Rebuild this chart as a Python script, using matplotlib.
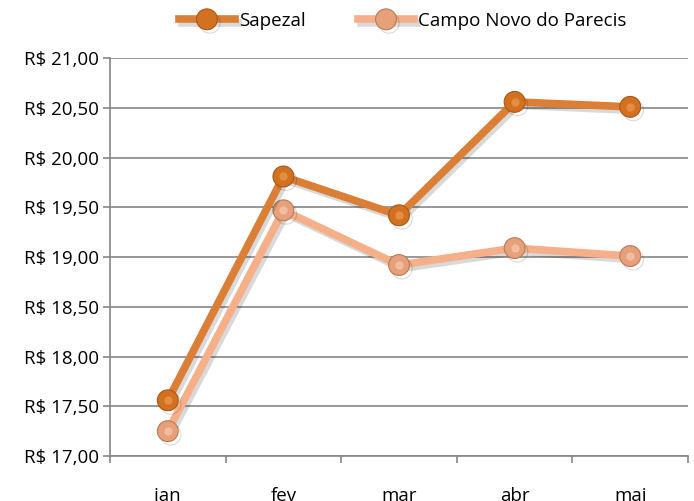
import matplotlib
matplotlib.use("Agg")
import matplotlib.pyplot as plt
import matplotlib.patheffects as pe
from matplotlib.ticker import FixedLocator, FuncFormatter

# --- Data ---
months = ["jan", "fev", "mar", "abr", "mai"]
sapezal = [17.56, 19.81, 19.42, 20.56, 20.51]
campo_novo = [17.25, 19.47, 18.92, 19.09, 19.01]

plt.rcParams['font.family'] = ['Open Sans', 'DejaVu Sans']
FS = 13.5

fig = plt.figure(figsize=(6.94, 5.01), dpi=100)
ax = fig.add_axes([0.1585, 0.0898, 0.8329, 0.7942])

x = list(range(len(months)))
shadow = [pe.SimpleLineShadow(offset=(2, -2.5), alpha=0.15, shadow_color='black'), pe.Normal()]

ax.plot(x, sapezal, color="#DB7E36", lw=5.5, marker='o', ms=15,
        markerfacecolor="#D2711F", markeredgecolor="#A8561A", markeredgewidth=0.8,
        label="Sapezal", path_effects=shadow, zorder=4)
ax.plot(x, campo_novo, color="#F5B08A", lw=5.5, marker='o', ms=15,
        markerfacecolor="#E6A07A", markeredgecolor="#B97A58", markeredgewidth=0.8,
        label="Campo Novo do Parecis", path_effects=shadow, zorder=3)

# highlight on markers for a slight 3D look
ax.plot(x, sapezal, ls='none', marker='o', ms=6, markerfacecolor="#F0A060",
        markeredgecolor='none', alpha=0.6, zorder=5)
ax.plot(x, campo_novo, ls='none', marker='o', ms=6, markerfacecolor="#FAD0B8",
        markeredgecolor='none', alpha=0.6, zorder=5)

ax.set_xlim(-0.5, len(months) - 0.5)
ax.set_ylim(17.0, 21.0)
ax.set_yticks([17.0 + 0.5 * i for i in range(9)])
ax.yaxis.set_major_formatter(FuncFormatter(lambda v, p: "R$ " + f"{v:.2f}".replace('.', ',')))
ax.grid(axis='y', color="#868686", lw=1.2)
ax.set_axisbelow(True)

ax.set_xticks(x)
ax.set_xticklabels(months)
ax.xaxis.set_minor_locator(FixedLocator([i - 0.5 for i in range(len(months) + 1)]))
ax.tick_params(axis='x', which='major', length=0, pad=22, labelsize=FS)
ax.tick_params(axis='x', which='minor', length=5, color="#868686", width=1.2)
ax.tick_params(axis='y', length=5, color="#868686", width=1.2, labelsize=FS, pad=3)

for s in ['top', 'right']:
    ax.spines[s].set_visible(False)
for s in ['left', 'bottom']:
    ax.spines[s].set_color("#868686")
    ax.spines[s].set_linewidth(1.2)

leg = fig.legend(loc='upper center', bbox_to_anchor=(0.58, 1.01), ncol=2, frameon=False,
                 fontsize=FS, handlelength=3.0, columnspacing=2.8, handletextpad=0.2)

fig.savefig("out.png", dpi=100)
